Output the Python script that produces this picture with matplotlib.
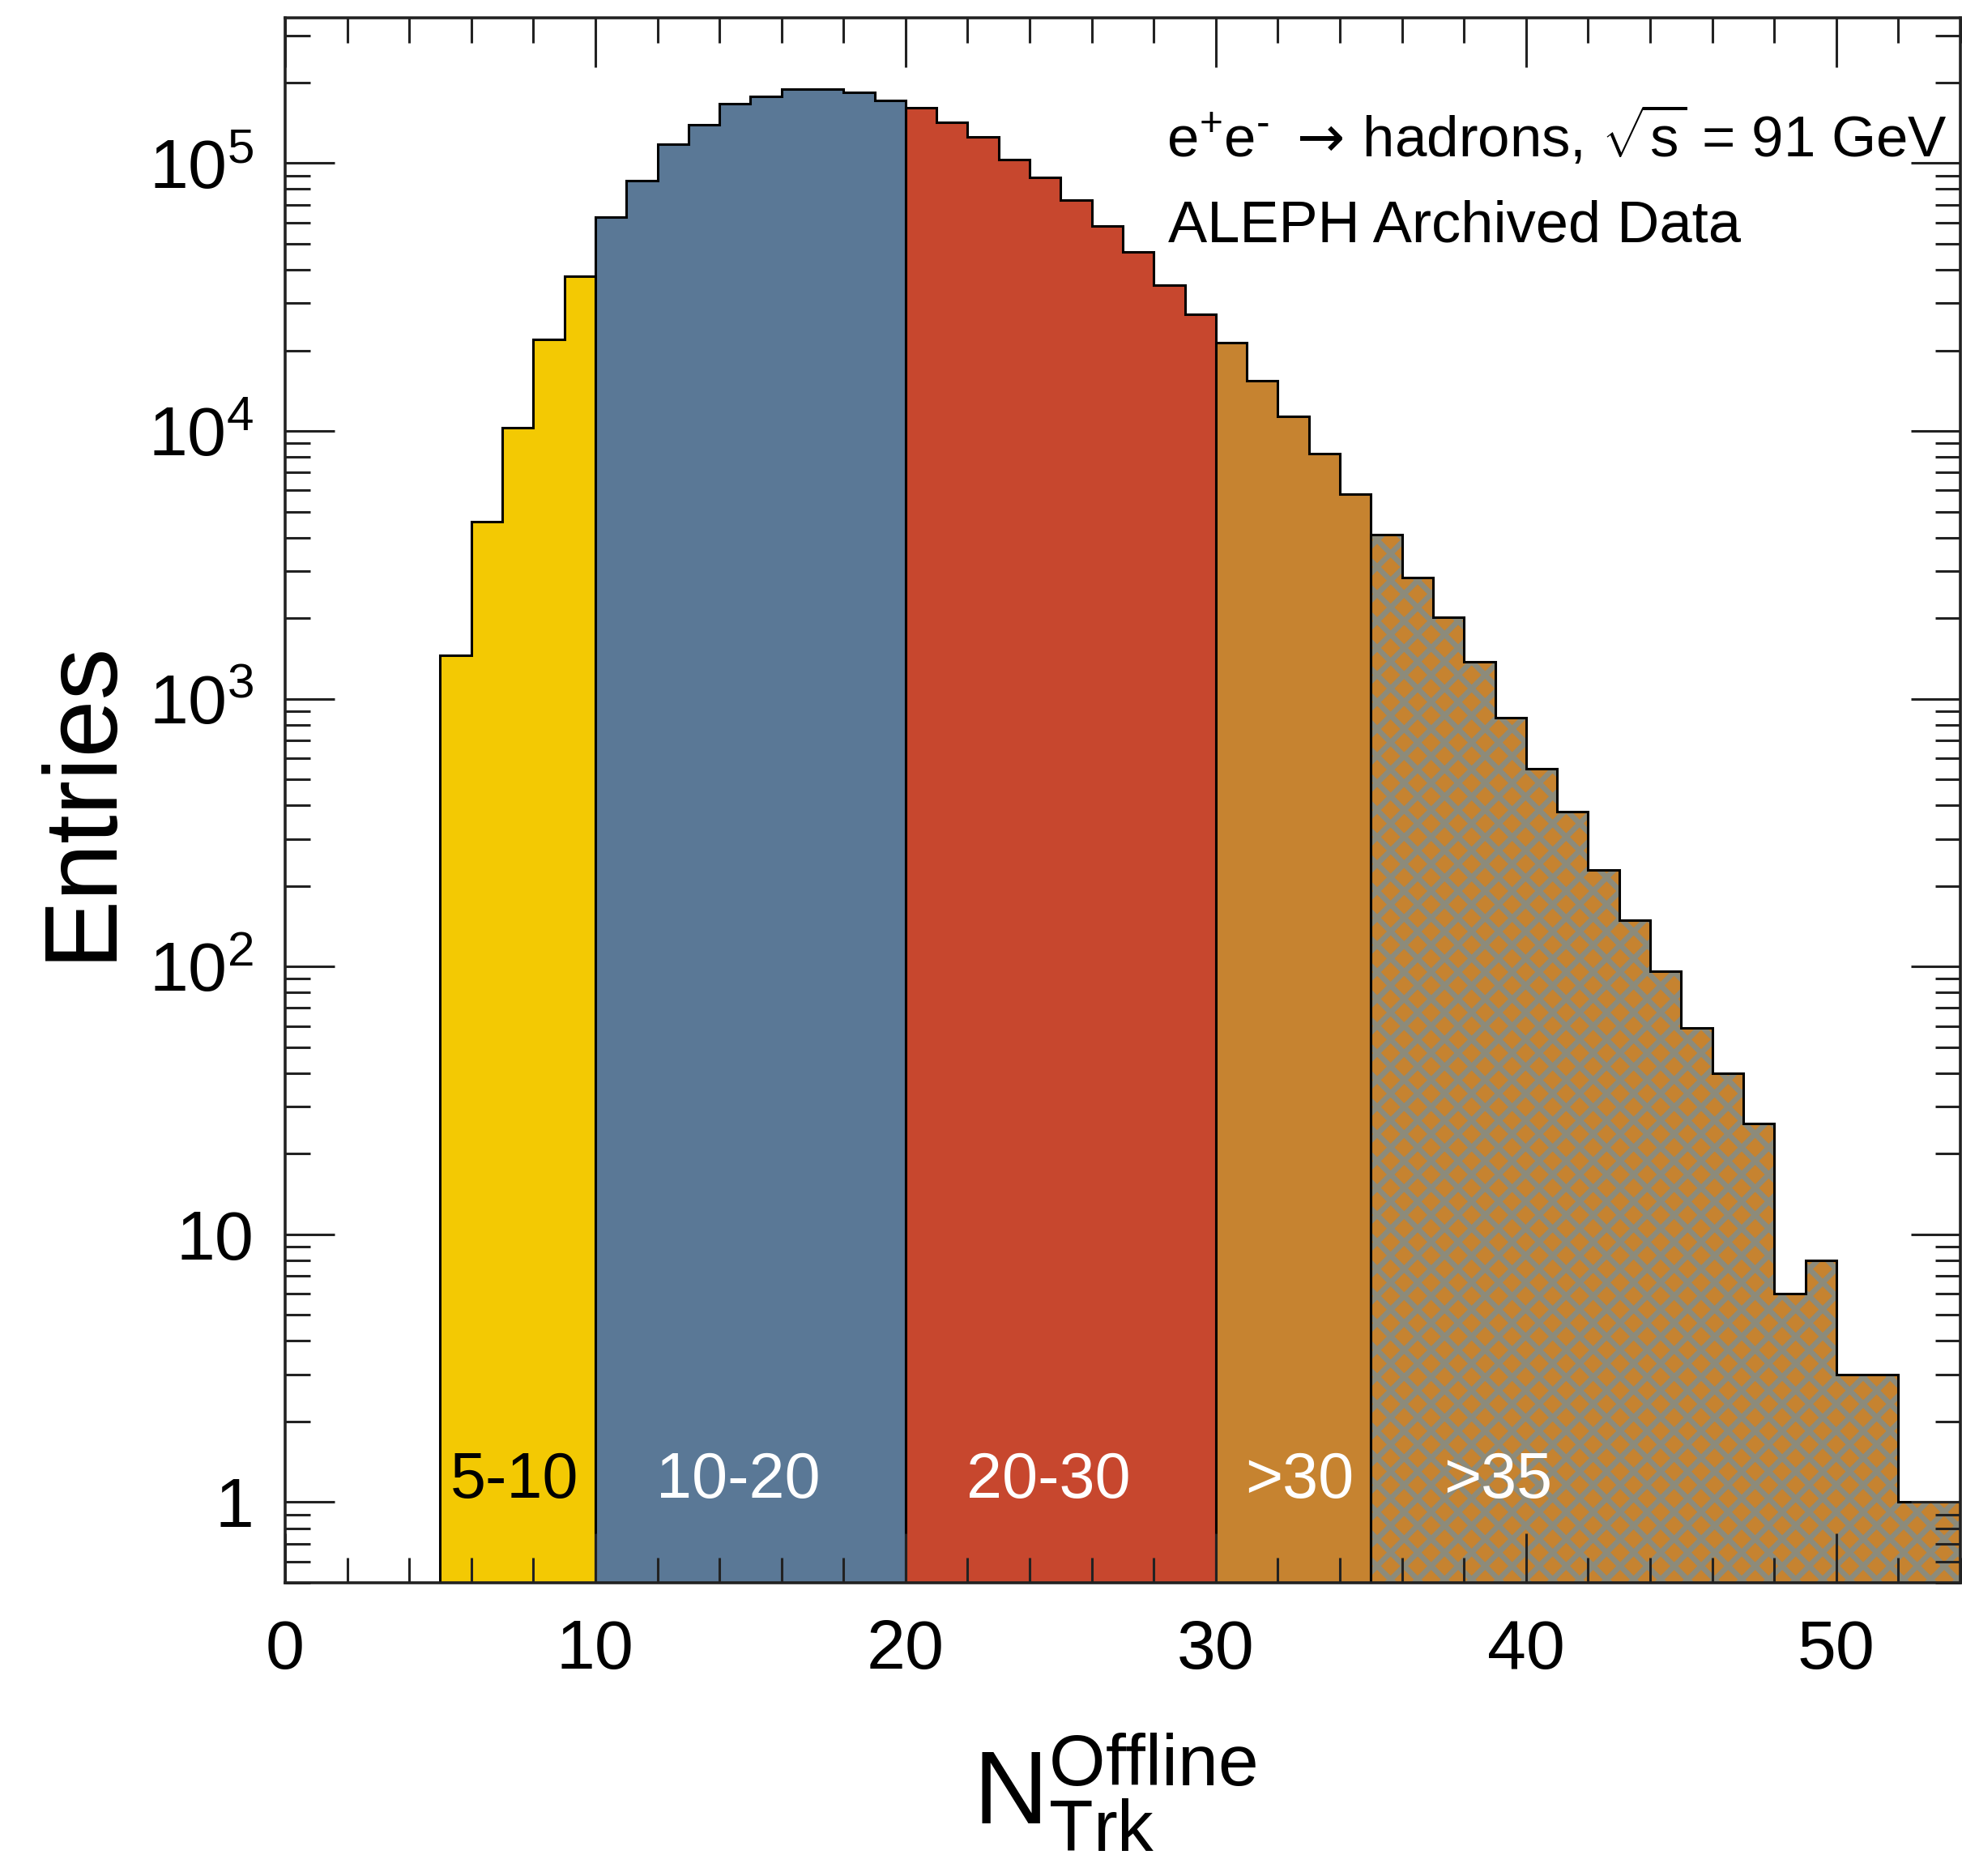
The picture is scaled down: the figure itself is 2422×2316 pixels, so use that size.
import numpy as np
import matplotlib.pyplot as plt
from matplotlib.ticker import MultipleLocator, LogLocator, FuncFormatter, NullFormatter

plt.rcParams['font.family'] = ['Liberation Sans', 'DejaVu Sans']
plt.rcParams['mathtext.fontset'] = 'custom'
plt.rcParams['mathtext.rm'] = 'Liberation Sans'
plt.rcParams['mathtext.it'] = 'Liberation Sans:italic'
plt.rcParams['mathtext.bf'] = 'Liberation Sans:bold'
plt.rcParams['mathtext.sf'] = 'DejaVu Sans'
plt.rcParams['hatch.linewidth'] = 2.4

# Offline track multiplicity, one entry per integer bin starting at 5
bin_lo = 5
counts = np.array([
    1450, 4600, 10300, 22000, 37700,                        # 5-9
    62700, 85900, 118000, 139000, 167000,                   # 10-14
    177000, 189000, 189000, 184000, 172000,                 # 15-19
    161000, 142000, 125000, 103000, 88500,                  # 20-24
    72900, 58100, 46600, 35100, 27300,                      # 25-29
    21400, 15400, 11300, 8250, 5820,                        # 30-34
    4100, 2840, 2010, 1370, 851,                            # 35-39
    548, 378, 229, 149, 96,                                 # 40-44
    59, 40, 26, 6, 8,                                       # 45-49
    3, 3, 1, 1,                                             # 50-53
], dtype=float)
edges = np.arange(bin_lo, bin_lo + len(counts) + 1)

# multiplicity classes
class_edges = [5, 10, 20, 30, 35, 54]
class_labels = ['5-10', '10-20', '20-30', '>30', '>35']
class_colors = ['#f3c903', '#5a7896', '#c7472e', '#c68330', '#c68330']
class_hatched = [False, False, False, False, True]
label_colors = ['black', 'white', 'white', 'white', 'white']
label_x = [7.4, 14.6, 24.6, 32.7, 39.1]

fig = plt.figure(figsize=(12.11, 11.58), dpi=200)
ax = fig.add_axes([0.1453, 0.1563, 0.8539, 0.8344])
ax.set_yscale('log')

base = 0.1
for lo, hi, col, hat in zip(class_edges[:-1], class_edges[1:], class_colors, class_hatched):
    i0, i1 = lo - bin_lo, hi - bin_lo
    vals, e = counts[i0:i1], edges[i0:i1 + 1]
    ax.stairs(vals, e, baseline=base, fill=True, facecolor=col, edgecolor='none', lw=0)
    if hat:
        ax.stairs(vals, e, baseline=base, fill=True, facecolor='none',
                  edgecolor='#8c8b7b', hatch='xx', lw=0)
    ax.stairs(vals, e, baseline=base, fill=False, color='black', lw=1.1)

for txt, x, c in zip(class_labels, label_x, label_colors):
    ax.text(x, 1.2, txt, color=c, fontsize=28.5, ha='center', va='center')

ax.text(28.4, 1.05e5,
        r'$\mathrm{e^{+}e^{\text{-}}}\ \mathsf{\rightarrow}\,$hadrons, $\sqrt{\mathrm{s}}$ = 91 GeV',
        fontsize=25.5, ha='left', va='baseline')
ax.text(28.45, 5.1e4, 'ALEPH Archived Data', fontsize=26, ha='left', va='baseline')

ax.set_xlim(0, 54)
ax.set_ylim(0.5, 3.5e5)

ax.xaxis.set_major_locator(MultipleLocator(10))
ax.xaxis.set_minor_locator(MultipleLocator(2))
ax.yaxis.set_major_locator(LogLocator(base=10, numticks=20))
ax.yaxis.set_minor_locator(LogLocator(base=10, subs=np.arange(2, 10), numticks=20))
ax.yaxis.set_minor_formatter(NullFormatter())


def log_label(v, pos):
    k = int(round(np.log10(v)))
    if k == 0:
        return '1'
    if k == 1:
        return '10'
    return r'$\mathregular{10^{%d}}$' % k


ax.yaxis.set_major_formatter(FuncFormatter(log_label))

ax.tick_params(which='both', direction='in', top=True, right=True, width=1.1,
               labelsize=31, color='#222222')
ax.tick_params(which='major', length=22)
ax.tick_params(which='minor', length=11)
ax.tick_params(axis='y', pad=14)
ax.tick_params(axis='x', pad=16)
for sp in ax.spines.values():
    sp.set_linewidth(1.3)
    sp.set_color('#222222')

ax.set_ylabel('Entries', fontsize=46)
ax.yaxis.set_label_coords(-0.092, 0.5)
ax.set_xlabel(r'$\mathregular{N^{Offline}_{Trk}}$', fontsize=46)
ax.xaxis.set_label_coords(0.495, -0.095)

fig.savefig('out.png', dpi=200)
